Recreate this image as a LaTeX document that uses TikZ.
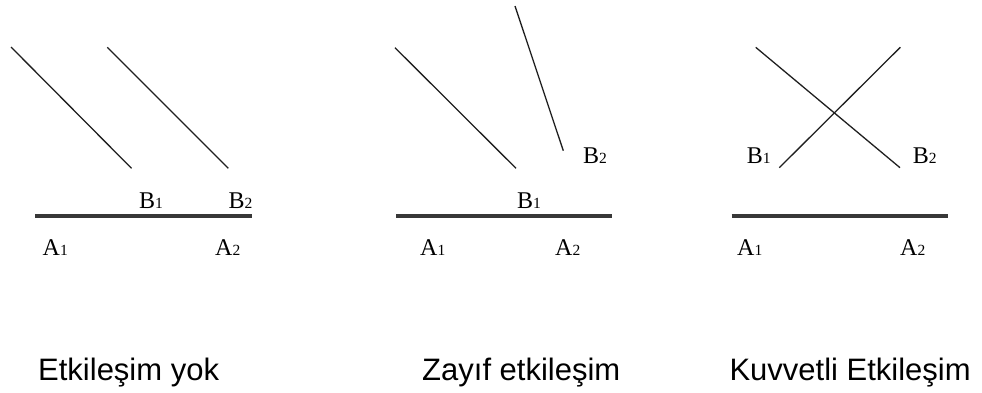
\documentclass[tikz,border=0pt]{standalone}
\usepackage{fontspec}
\setmainfont{Liberation Serif}
\newfontfamily\capfont{Liberation Sans}
\begin{document}
\begin{tikzpicture}[x=1pt,y=-1pt,
  thinline/.style={line width=1.3pt,draw=black!88},
  thickline/.style={line width=3.8pt,draw=black!78},
  lbl/.style={anchor=base west,inner sep=0pt,font=\fontsize{24}{24}\selectfont},
  captext/.style={anchor=base west,inner sep=0pt,font=\capfont\fontsize{31}{31}\selectfont}]
\newcommand{\sbs}[1]{{\fontsize{15.5}{15.5}\selectfont #1}}
\useasboundingbox (0,0) rectangle (982,392);
% Panel 1
\draw[thinline] (11,47) -- (131.5,168.3);
\draw[thinline] (107.3,47.3) -- (228.3,168.3);
\draw[thickline] (35,216) -- (251.7,216);
\node[lbl] (p1b1) at (139,208.5) {B\sbs{1}};
\node[lbl] (p1b2) at (228.5,208.5) {B\sbs{2}};
\node[lbl] (p1a1) at (42.5,255) {A\sbs{1}};
\node[lbl] (p1a2) at (215,255) {A\sbs{2}};
% Panel 2
\draw[thinline] (395,47.7) -- (516,168.3);
\draw[thinline] (515,6) -- (563.3,150.7);
\draw[thickline] (396,216) -- (611.7,216);
\node[lbl] (p2b1) at (517,208.5) {B\sbs{1}};
\node[lbl] (p2b2) at (583,163.3) {B\sbs{2}};
\node[lbl] (p2a1) at (420,255) {A\sbs{1}};
\node[lbl] (p2a2) at (555,255) {A\sbs{2}};
% Panel 3
\draw[thinline] (755.7,47.3) -- (900,167.7);
\draw[thinline] (779.3,167.7) -- (900.3,47.3);
\draw[thickline] (731.7,216) -- (947.7,216);
\node[lbl] (p3b1) at (746.7,163.3) {B\sbs{1}};
\node[lbl] (p3b2) at (912.7,163.3) {B\sbs{2}};
\node[lbl] (p3a1) at (737,255) {A\sbs{1}};
\node[lbl] (p3a2) at (900,255) {A\sbs{2}};
% Captions
\node[captext] (c1) at (38,380) {Etkileşim yok};
\node[captext] (c2) at (422,380) {Zayıf etkileşim};
\node[captext] (c3) at (729.3,380) {Kuvvetli Etkileşim};
\end{tikzpicture}
\end{document}
